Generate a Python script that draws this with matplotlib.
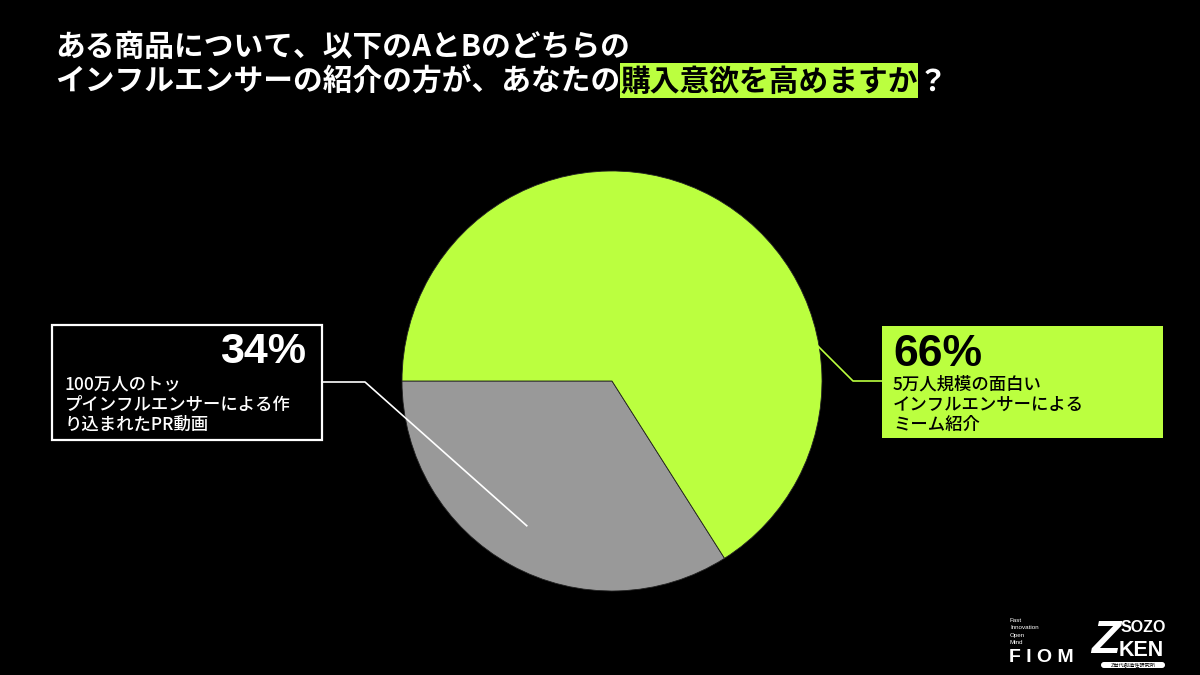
import numpy as np
import matplotlib.pyplot as plt
from matplotlib.patches import Rectangle, FancyBboxPatch

plt.rcParams['font.family'] = ['Noto Sans CJK JP', 'DejaVu Sans']

# データ
labels = ["100万人のトッ\nプインフルエンサーによる作\nり込まれたPR動画",
          "5万人規模の面白い\nインフルエンサーによる\nミーム紹介"]
values = [34, 66]
pct_labels = ["34%", "66%"]
colors = ["#999999", "#bbff3f"]

title_1 = "ある商品について、以下のAとBのどちらの"
title_2a = "インフルエンサーの紹介の方が、あなたの"
title_2b = "購入意欲を高めますか"
title_2c = "？"

W, H = 1200, 675
fig = plt.figure(figsize=(12, 6.75), dpi=100, facecolor="black")

# 円グラフ (中心 612,381 / 半径 210 px)
cx, cy, r = 612, 381, 210
pie_ax = fig.add_axes([(cx - r) / W, (H - cy - r) / H, 2 * r / W, 2 * r / H])
pie_ax.set_facecolor("black")
wedges, _ = pie_ax.pie(values, colors=colors, startangle=180, counterclock=True,
                       radius=1.0, wedgeprops=dict(edgecolor="#222222", linewidth=0.6))
pie_ax.set_xlim(-1, 1)
pie_ax.set_ylim(-1, 1)
pie_ax.axis("off")

# オーバーレイ (ピクセル座標)
ov = fig.add_axes([0, 0, 1, 1])
ov.set_xlim(0, W)
ov.set_ylim(H, 0)
ov.axis("off")
ov.patch.set_alpha(0)


def pie_point(angle_deg, rr):
    a = np.deg2rad(angle_deg)
    p = pie_ax.transData.transform((rr * np.cos(a), rr * np.sin(a)))
    return ov.transData.inverted().transform(p)


# タイトル
fig.canvas.draw()
renderer = fig.canvas.get_renderer()
tkw = dict(fontsize=21.4, fontweight="bold", va="center", ha="left")
ov.text(55, 47, title_1, color="white", **tkw)
t2a = ov.text(55, 82, title_2a, color="white", **tkw)
bb = t2a.get_window_extent(renderer).transformed(ov.transData.inverted())
x_hl = bb.x1
t2b = ov.text(x_hl, 82, title_2b, color="black", **tkw)
bb2 = t2b.get_window_extent(renderer).transformed(ov.transData.inverted())
ov.add_patch(Rectangle((x_hl, 63), bb2.x1 - x_hl, 35, facecolor=colors[1],
                       edgecolor="none", zorder=0))
ov.text(bb2.x1, 82, title_2c, color="white", **tkw)

pct_font = ['Liberation Sans', 'Noto Sans CJK JP']

# 左ボックス (34%)
ov.add_patch(Rectangle((52, 325), 270, 115, facecolor="black",
                       edgecolor="white", linewidth=1.6, zorder=3))
ov.text(306, 352, pct_labels[0], color="white", fontsize=31, fontweight="bold",
        family=pct_font, ha="right", va="center", zorder=4)
ov.text(65, 405, labels[0], color="white", fontsize=12.5, fontweight="medium",
        ha="left", va="center", linespacing=1.15, zorder=4)
p_gray = pie_point(239.5, 0.8)
ov.plot([322, 365, p_gray[0]], [382, 382, p_gray[1]], color="white", lw=1.2, zorder=2)

# 右ボックス (66%)
ov.add_patch(Rectangle((882, 326), 281, 112, facecolor=colors[1],
                       edgecolor="none", zorder=3))
ov.text(893, 355, pct_labels[1], color="black", fontsize=32, fontweight="bold",
        family=pct_font, ha="left", va="center", zorder=4)
ov.text(893, 405, labels[1], color="black", fontsize=12.5, fontweight="medium",
        ha="left", va="center", linespacing=1.15, zorder=4)
p_green = pie_point(10, 0.99)
ov.plot([882, 853, p_green[0]], [381, 381, p_green[1]], color=colors[1], lw=1.2, zorder=2)

# ロゴ
for i, w in enumerate(["Fast", "Innovation", "Open", "Mind"]):
    ov.text(1010, 620 + i * 7.6, w, color="white", fontsize=4.5, family=pct_font,
            ha="left", va="center")
ov.text(1009, 657, "F I O M", color="white", fontsize=14, fontweight="bold",
        family=pct_font, ha="left", va="center")
ov.text(1091, 641, "Z", color="white", fontsize=34, fontweight="bold", family=pct_font,
        ha="left", va="center", style="italic")
ov.text(1121, 628, "SOZO", color="white", fontsize=11.5, fontweight="bold", family=pct_font,
        ha="left", va="center")
ov.text(1119, 650, "KEN", color="white", fontsize=15.5, fontweight="bold", family=pct_font,
        ha="left", va="center")
ov.add_patch(FancyBboxPatch((1101, 662), 64, 6, boxstyle="round,pad=0,rounding_size=3",
                            facecolor="white", edgecolor="none"))
ov.text(1133, 665, "Z世代創造性研究所", color="black", fontsize=3.8, ha="center", va="center")

fig.savefig("out.png", dpi=100, facecolor="black")
